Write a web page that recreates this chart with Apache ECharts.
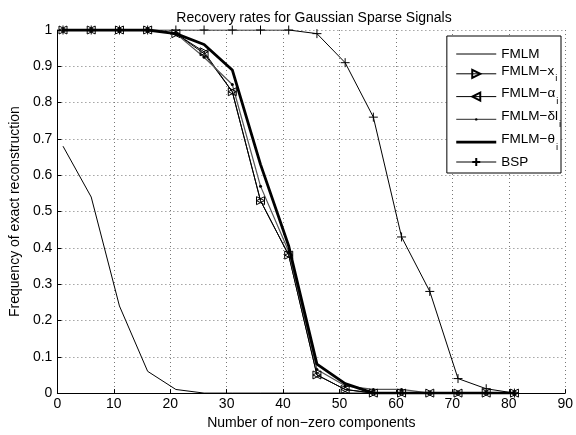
<!DOCTYPE html>
<html><head><meta charset="utf-8">
<script src="https://cdn.jsdelivr.net/npm/echarts@6/dist/echarts.min.js"></script>
<style>html,body{margin:0;padding:0;background:#fff}#c{width:576px;height:435px}</style>
</head><body><div id="c"></div>
<script>
var xs = [1, 6, 11, 16, 21, 26, 31, 36, 41, 46, 51, 56, 61, 66, 71, 76, 81];
var fmlm   = [0.68, 0.54, 0.24, 0.06, 0.01, 0, 0, 0, 0, 0, 0, 0, 0, 0, 0, 0, 0];
var fmlmX  = [1, 1, 1, 1, 0.99, 0.94, 0.83, 0.53, 0.38, 0.05, 0.01, 0, 0, 0, 0, 0, 0];
var fmlmA  = [1, 1, 1, 1, 0.99, 0.935, 0.83, 0.53, 0.38, 0.05, 0.01, 0, 0, 0, 0, 0, 0];
var fmlmD  = [1, 1, 1, 1, 0.99, 0.925, 0.85, 0.57, 0.39, 0.065, 0.02, 0.01, 0.01, 0, 0, 0, 0];
var fmlmT  = [1, 1, 1, 1, 0.99, 0.96, 0.89, 0.63, 0.405, 0.08, 0.026, 0, 0, 0, 0, 0, 0];
var bsp    = [1, 1, 1, 1, 1, 1, 1, 1, 1, 0.99, 0.91, 0.76, 0.43, 0.28, 0.04, 0.012, 0];
var legendNames = ['FMLM', 'FMLM−x_i', 'FMLM−α_i', 'FMLM−δl_i', 'FMLM−θ_i', 'BSP'];

function pairs(v){ return xs.map(function(x,i){ return [x, v[i]]; }); }
var font = 'Liberation Sans, Arial, Helvetica, sans-serif';
var plus = 'path://M0,5L10,5M5,0L5,10';
var dot = 'path://M0,0M10,10M3.5,5A1.5,1.5,0,1,1,6.5,5A1.5,1.5,0,1,1,3.5,5Z';

var chart = echarts.init(document.getElementById('c'), null, {renderer:'canvas'});
chart.setOption({
  animation:false,
  backgroundColor:'#fff',
  title:{text:'Recovery rates for Gaussian Sparse Signals', left:309, textAlign:'center', top:6,
    textStyle:{fontFamily:font, fontSize:14, fontWeight:'normal', color:'#000'}},
  grid:{left:52, right:10, top:30, bottom:38},
  legend:{
    orient:'vertical', right:15, top:36, itemWidth:40, itemHeight:10, itemGap:2.8,
    backgroundColor:'#fff', borderColor:'#000', borderWidth:1, padding:[11,0,4,8],
    lineStyle:{width:'inherit'},
    textStyle:{fontFamily:font, fontSize:13.5, color:'#000',
      rich:{
        p:{fontFamily:font, fontSize:13.5, color:'#000', padding:[3,0,3,0]},
        a:{fontFamily:font, fontSize:13.5, color:'#000', padding:[0,0,6,0]},
        s:{fontFamily:font, fontSize:9.5, color:'#000', padding:[10,0,0,1]}
      }},
    formatter:function(n){
      var m = n.match(/^(.*)_(.)$/);
      if(m) return '{a|'+m[1]+'}{s|'+m[2]+'}';
      return '{p|'+n+'}';
    },
    data:[
      {name:legendNames[0], itemStyle:{opacity:0}},
      {name:legendNames[1]},
      {name:legendNames[2]},
      {name:legendNames[3]},
      {name:legendNames[4], itemStyle:{opacity:0}},
      {name:legendNames[5]}
    ]
  },
  xAxis:{type:'value', min:0, max:90, interval:10,
    axisLine:{show:true, onZero:false, lineStyle:{color:'#000', width:1}},
    axisTick:{show:true, inside:true, length:4, lineStyle:{color:'#000'}},
    name:'Number of non−zero components', nameLocation:'middle', nameGap:22,
    nameTextStyle:{fontFamily:font, fontSize:14, color:'#000'},
    axisLabel:{fontFamily:font, fontSize:14, color:'#000', margin:4},
    splitLine:{show:true, lineStyle:{color:'#777', type:[1,3], width:1}}},
  yAxis:{type:'value', min:0, max:1, interval:0.1,
    axisLine:{show:true, onZero:false, lineStyle:{color:'#000', width:1}},
    axisTick:{show:true, inside:true, length:4, lineStyle:{color:'#000'}},
    name:'Frequency of exact reconstruction', nameLocation:'middle', nameGap:32,
    nameTextStyle:{fontFamily:font, fontSize:14, color:'#000'},
    axisLabel:{fontFamily:font, fontSize:14, color:'#000', margin:5},
    splitLine:{show:true, lineStyle:{color:'#777', type:[1,3], width:1}}},
  series:[
    {name:legendNames[0], type:'line', data:pairs(fmlm), symbol:'none', lineStyle:{color:'#000', width:1}, itemStyle:{color:'#000'}},
    {name:legendNames[1], type:'line', data:pairs(fmlmX), symbol:'triangle', symbolSize:8, symbolRotate:-90,
      lineStyle:{color:'#000', width:1}, itemStyle:{color:'rgba(0,0,0,0)', borderColor:'#000', borderWidth:1}},
    {name:legendNames[2], type:'line', data:pairs(fmlmA), symbol:'triangle', symbolSize:8, symbolRotate:90,
      lineStyle:{color:'#000', width:1}, itemStyle:{color:'rgba(0,0,0,0)', borderColor:'#000', borderWidth:1}},
    {name:legendNames[3], type:'line', data:pairs(fmlmD), symbol:dot, symbolSize:10,
      lineStyle:{color:'#555', width:1.2}, itemStyle:{color:'#000', borderWidth:0}},
    {name:legendNames[4], type:'line', data:pairs(fmlmT), symbol:'none',
      lineStyle:{color:'#000', width:2.8}, itemStyle:{color:'#000'}},
    {name:legendNames[5], type:'line', data:pairs(bsp), symbol:plus, symbolSize:9,
      lineStyle:{color:'#000', width:1}, itemStyle:{color:'#000', borderColor:'#000', borderWidth:1}}
  ]
});
</script></body></html>
